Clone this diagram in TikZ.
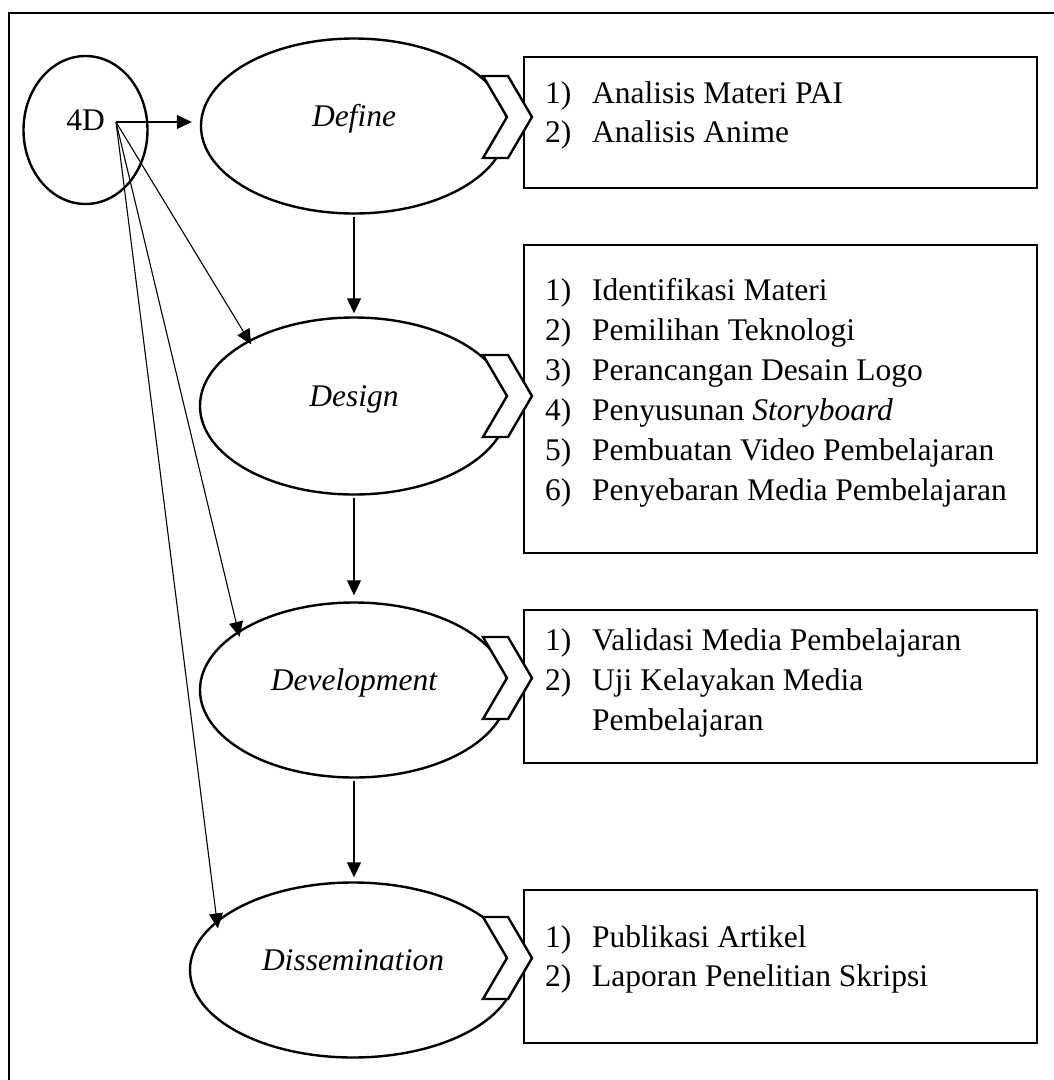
\documentclass[tikz,border=0pt]{standalone}
\usepackage{fontspec}
\setmainfont{Liberation Serif}
\usetikzlibrary{arrows.meta,shapes.geometric}
\begin{document}
\begin{tikzpicture}[x=1pt,y=-1pt,
  font=\fontsize{31.5}{40}\selectfont,
  oval/.style={draw, ellipse, line width=2.4pt, inner sep=0pt, text height=0pt, text depth=0pt},
  stage/.style={oval, font=\fontsize{31.5}{40}\selectfont\itshape},
  listbox/.style={draw, rectangle, line width=2.5pt, minimum width=513pt, inner sep=0pt},
  chev/.style={draw, fill=white, line width=2.4pt, line join=miter},
  flow/.style={-{Triangle[length=15pt,width=14pt]}, line width=1.1pt},
  frameline/.style={line width=2.8pt},
  num/.style={anchor=base west, inner sep=0pt},
]
\clip (0,0) rectangle (1054,1080);
\draw[frameline] (9,13) rectangle (1120,1140);

% stages
\node[oval, minimum width=124pt, minimum height=148pt] (fd) at (85.5,130) {4D};
\node[stage, minimum width=306pt, minimum height=175pt] (def) at (354,126) {Define};
\node[stage, minimum width=308pt, minimum height=177pt] (des) at (354,406) {Design};
\node[stage, minimum width=308pt, minimum height=175pt] (dev) at (354,690) {Development};
\node[stage, minimum width=326pt, minimum height=175pt] (dis) at (353,970) {Dissemination};

% boxes
\node[listbox, minimum height=131pt] (b1) at (780.5,122.5) {};
\node[listbox, minimum height=308pt] (b2) at (780.5,399) {};
\node[listbox, minimum height=153pt] (b3) at (780.5,686.5) {};
\node[listbox, minimum height=153pt] (b4) at (780.5,966.5) {};

% chevrons
\foreach \ty in {76,355,637,917}
  \filldraw[chev] (483,\ty) -- ++(25,0) -- ++(24,41) -- ++(-24,41) -- ++(-25,0) -- ++(24,-41) -- cycle;

% box texts
\foreach \t [count=\i] in {Analisis Materi PAI, Analisis Anime}{
  \node[num] (b1n\i) at (545,{103+39*(\i-1)}) {\i)};
  \node[num] (b1t\i) at (592,{103+39*(\i-1)}) {\t};
}
\foreach \t [count=\i] in {Identifikasi Materi, Pemilihan Teknologi, Perancangan Desain Logo, {Penyusunan \textit{Storyboard}}, Pembuatan Video Pembelajaran, Penyebaran Media Pembelajaran}{
  \node[num] (b2n\i) at (545,{300+40*(\i-1)}) {\i)};
  \node[num] (b2t\i) at (592,{300+40*(\i-1)}) {\t};
}
\foreach \t [count=\i] in {Validasi Media Pembelajaran, Uji Kelayakan Media}{
  \node[num] (b3n\i) at (545,{650+40*(\i-1)}) {\i)};
  \node[num] (b3t\i) at (592,{650+40*(\i-1)}) {\t};
}
\node[num] (b3t3) at (592,730) {Pembelajaran};
\foreach \t [count=\i] in {Publikasi Artikel, Laporan Penelitian Skripsi}{
  \node[num] (b4n\i) at (545,{947+39*(\i-1)}) {\i)};
  \node[num] (b4t\i) at (592,{947+39*(\i-1)}) {\t};
}

% connectors
\coordinate (src) at (116,122);
\draw[flow, shorten >=8pt] (src) -- (src -| def.west);
\draw[flow, shorten >=-5pt] (src) -- (des.148);
\draw[flow, shorten >=-6pt] (src) -- (dev.153);
\draw[flow, shorten >=-8pt] (src) -- (dis.160);
\draw[flow, shorten <=2pt, shorten >=3pt] (def.south) -- (des.north);
\draw[flow, shorten <=2pt, shorten >=6pt] (des.south) -- (dev.north);
\draw[flow, shorten <=2pt, shorten >=4pt] (dev.south) -- (dev.south |- dis.north);
\end{tikzpicture}
\end{document}
